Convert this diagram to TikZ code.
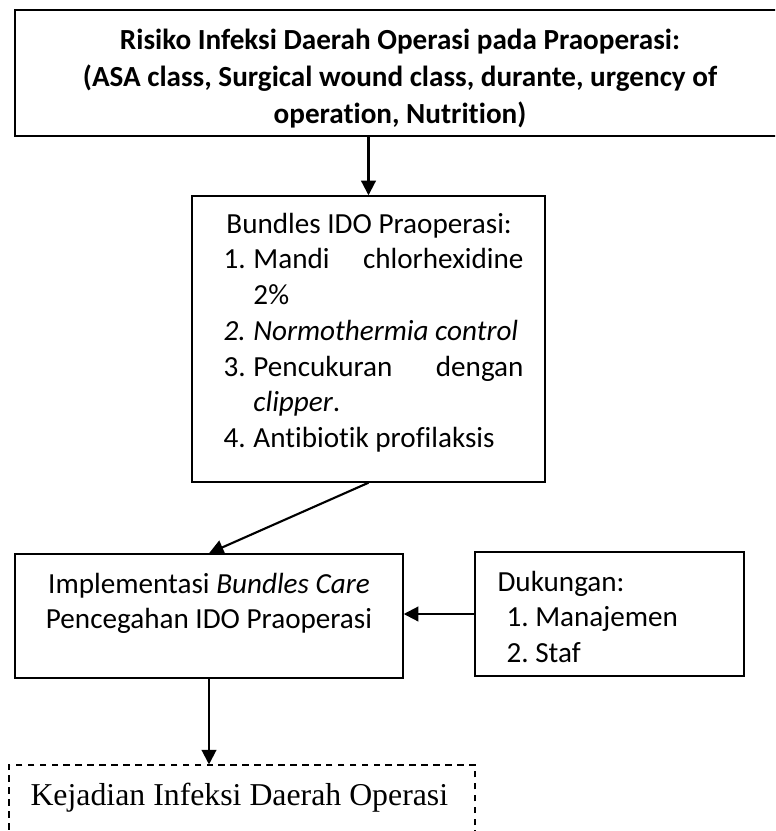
\documentclass[tikz,border=0pt]{standalone}
\usepackage{fontspec}
\setmainfont{Carlito}[Ligatures=NoCommon]
\newfontfamily\timesf{Liberation Serif}
\usetikzlibrary{arrows.meta,fit}
\frenchspacing
\newcommand\calfont{\fontsize{11pt}{13.5pt}\selectfont}
\newcommand\numlbl[1]{\makebox[11.3pt][l]{#1}}
\begin{document}
\begin{tikzpicture}[x=0.37736pt,y=-0.37736pt,
  box/.style={draw,line width=0.55pt,inner sep=0pt},
  dbox/.style={draw,line width=0.4pt,dash pattern=on 2.5pt off 2pt,inner sep=0pt},
  arr/.style={draw,line width=0.8pt,-{Triangle[length=5.5pt,width=5.5pt]}},
  txt/.style={inner sep=0pt,font=\calfont}]
\useasboundingbox (0,0) rectangle (775,831);
\clip (0,0) rectangle (775,831);
% boxes
\node[box,fit={(15,10) (790,136)}] (top) {};
\node[box,fit={(192,196) (545,482)}] (b2) {};
\node[box,fit={(15,554) (403,678)}] (b3) {};
\node[box,fit={(475,552) (744,676)}] (b4) {};
\node[dbox,fit={(9,765) (475,860)}] (b5) {};
% texts
\node[txt,anchor=base] (topt) at (400,49) {\parbox[t]{300pt}{\centering\fontsize{11pt}{14.1pt}\selectfont\bfseries
  Risiko Infeksi Daerah Operasi pada Praoperasi:\\
  (ASA class, Surgical wound class, durante, urgency of\\
  operation, Nutrition)}};
\node[txt,anchor=base west] (b2t) at (223,233) {\parbox[t]{113.2pt}{\calfont\setlength{\parindent}{0pt}%
  \hspace*{1.1pt}Bundles IDO Praoperasi:\\
  \makebox[113.2pt][l]{\numlbl{1.}Mandi\hfill chlorhexidine}\\
  \numlbl{}2\%\\
  \textit{\numlbl{2.}Normothermia control}\\
  \makebox[113.2pt][l]{\numlbl{3.}Pencukuran\hfill dengan}\\
  \numlbl{}\textit{clipper}.\\
  \numlbl{4.}Antibiotik profilaksis}};
\node[txt,anchor=base] (b3t) at (209,593) {\parbox[t]{140pt}{\centering\calfont
  Implementasi \textit{Bundles Care}\\
  Pencegahan IDO Praoperasi}};
\node[txt,anchor=base west] (b4t) at (497,591) {\parbox[t]{90pt}{\calfont\setlength{\parindent}{0pt}%
  Dukungan:\\
  \hspace*{3.4pt}1. Manajemen\\
  \hspace*{3.4pt}2. Staf}};
\node[inner sep=0pt,anchor=base west,font=\timesf\fontsize{12pt}{14pt}\selectfont] (b5t) at (30,805) {Kejadian Infeksi Daerah Operasi};
% connectors
\draw[arr] (b2.north |- top.south) -- (b2.north);
\draw[arr] (b2.south) -- (b3.north);
\draw[arr] (b4.west) -- (b3.east |- b4.west);
\draw[arr] (b3.south) -- (b3.south |- b5.north);
\end{tikzpicture}
\end{document}
